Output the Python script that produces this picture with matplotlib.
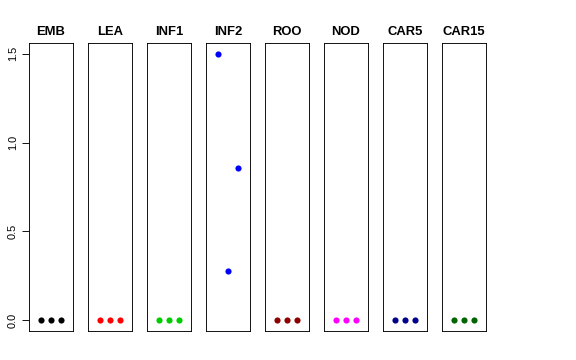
import numpy as np
import matplotlib
matplotlib.use('Agg')
import matplotlib.pyplot as plt

# panel names and colours
names = ['EMB', 'LEA', 'INF1', 'INF2', 'ROO', 'NOD', 'CAR5', 'CAR15']
colors = ['#000000', '#FF0000', '#00CD00', '#0000FF', '#8B0000', '#FF00FF', '#00008B', '#006400']

# replicate values per panel
x = [1, 2, 3]
values = {
    'EMB': [0, 0, 0],
    'LEA': [0, 0, 0],
    'INF1': [0, 0, 0],
    'INF2': [1.5, 0.275, 0.855],
    'ROO': [0, 0, 0],
    'NOD': [0, 0, 0],
    'CAR5': [0, 0, 0],
    'CAR15': [0, 0, 0],
}
yticks = [0.0, 0.5, 1.0, 1.5]
ytick_labels = ['0.0', '0.5', '1.0', '1.5']

W, H = 576, 360
fig = plt.figure(figsize=(W / 72, H / 72), dpi=72)

left0, pitch, pw = 29, 59, 44
top, bottom = 43, 331

for i, name in enumerate(names):
    l = left0 + i * pitch
    ax = fig.add_axes([l / W, 1 - bottom / H, pw / W, (bottom - top) / H])
    ax.scatter(x, values[name], s=38, color=colors[i], zorder=3, linewidths=0)
    ax.set_xlim(-0.16, 4.16)
    ax.set_ylim(-0.06, 1.56)
    ax.set_xticks([])
    for sp in ax.spines.values():
        sp.set_linewidth(0.9)
        sp.set_color('black')
    ax.set_title(name, fontsize=13, fontweight='bold', pad=8,
                 family='Liberation Sans')
    if i == 0:
        ax.set_yticks(yticks)
        ax.set_yticklabels(ytick_labels, rotation=90, va='center',
                           fontsize=11, family='Liberation Sans')
        ax.tick_params(axis='y', length=7, width=0.9, pad=4)
    else:
        ax.set_yticks([])

fig.savefig('out.png', dpi=72)
